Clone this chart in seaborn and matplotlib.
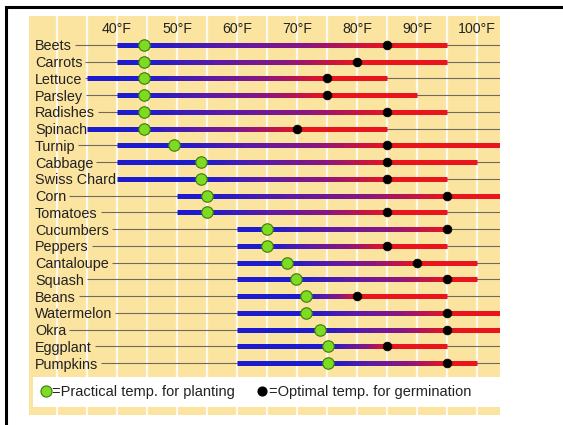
import seaborn as sns
import matplotlib
matplotlib.use("Agg")
import matplotlib.pyplot as plt
from matplotlib import patches
from matplotlib.collections import LineCollection
from matplotlib.lines import Line2D
from matplotlib.colors import LinearSegmentedColormap
import numpy as np
import pandas as pd

# data (degrees F)
crops = ["Beets", "Carrots", "Lettuce", "Parsley", "Radishes", "Spinach", "Turnip",
         "Cabbage", "Swiss Chard", "Corn", "Tomatoes", "Cucumbers", "Peppers",
         "Cantaloupe", "Squash", "Beans", "Watermelon", "Okra", "Eggplant", "Pumpkins"]
temp_min = [40, 40, 35, 40, 40, 35, 40, 40, 40, 50, 50, 60, 60, 60, 60, 60, 60, 60, 60, 60]
temp_max = [95, 95, 85, 90, 95, 85, 105, 100, 95, 105, 95, 95, 95, 100, 100, 95, 105, 105, 95, 100]
practical = [44.5, 44.5, 44.5, 44.5, 44.5, 44.5, 49.5, 54, 54, 55, 55,
             65, 65, 68.4, 69.9, 71.5, 71.5, 73.8, 75.2, 75.2]
optimal = [85, 80, 75, 75, 85, 70, 85, 85, 85, 95, 85, 95, 85, 90, 95, 80, 95, 95, 85, 95]
tick_temps = [40, 50, 60, 70, 80, 90, 100]
grid_temps = list(range(30, 101, 5))

df = pd.DataFrame({"crop": crops, "row": np.arange(len(crops)), "tmin": temp_min,
                   "tmax": temp_max, "practical": practical, "optimal": optimal})

BG = "#fbe3a0"
BLUE = "#1c1cce"
RED = "#e8141e"
GREEN = "#7ddc1f"
fade = LinearSegmentedColormap.from_list("fade", [BLUE, "#5a1aa8", "#8a1680", RED])

sns.set_style("white")
plt.rcParams["font.family"] = ["Liberation Sans", "DejaVu Sans"]

W, H = 563, 425
fig = plt.figure(figsize=(W / 100, H / 100), dpi=100)
ax = fig.add_axes([29 / W, 10 / H, 471 / W, 399 / H])
ax.set_facecolor(BG)
for s in ax.spines.values():
    s.set_visible(False)

# gradient bars: blue up to planting temp, fade to red at optimal temp
segs, cols = [], []
for _, r in df.iterrows():
    y = r["row"]
    segs.append([(r["tmin"], y), (r["practical"] + 0.3, y)])
    cols.append(BLUE)
    xs = np.linspace(r["practical"], r["optimal"], 41)
    for i in range(40):
        segs.append([(xs[i], y), (xs[i + 1] + 0.4, y)])
        cols.append(fade((i + 0.5) / 40))
    segs.append([(r["optimal"], y), (r["tmax"], y)])
    cols.append(RED)
ax.add_collection(LineCollection(segs, colors=cols, linewidths=3.6,
                                 capstyle="butt", zorder=3))

sns.scatterplot(data=df, x="practical", y="row", color=GREEN, edgecolor="#3d7a12",
                linewidth=0.8, s=68, zorder=5, ax=ax, legend=False)
sns.scatterplot(data=df, x="optimal", y="row", color="black", edgecolor="black",
                linewidth=0.5, s=40, zorder=5, ax=ax, legend=False)
ax.set_xlabel("")
ax.set_ylabel("")
ax.set_xlim(25.33, 103.83)
ax.set_ylim(22.1, -1.732)

# white vertical grid every 5 degrees, labels every 10
ax.set_xticks(grid_temps)
ax.set_xticklabels([f"{t}°F" if t in tick_temps else "" for t in grid_temps])
ax.xaxis.tick_top()
ax.tick_params(axis="x", length=0, pad=-14.5, labelsize=10.2, labelcolor="#222222")
ax.grid(axis="x", color="white", lw=1.6, alpha=0.85)
ax.grid(axis="y", visible=False)
ax.set_axisbelow(True)

# crop names inside the plot on the left
ax.set_yticks(df["row"])
ax.set_yticklabels(df["crop"])
ax.tick_params(axis="y", length=0, pad=-4.3, labelsize=10.4, labelcolor="#222222")
for lbl in ax.get_yticklabels():
    lbl.set_horizontalalignment("left")

# thin leader lines from the end of each name to the right edge
fig.canvas.draw()
renderer = fig.canvas.get_renderer()
inv = ax.transData.inverted()
for lbl, y in zip(ax.get_yticklabels(), df["row"]):
    bb = lbl.get_window_extent(renderer)
    x0 = inv.transform((bb.x1 + 3, 0))[0]
    ax.hlines(y, x0, 103.83, color="#6f6a5c", lw=0.8, zorder=2)

# legend strip
ax.add_patch(patches.Rectangle((4 / 471, 8 / 399), 467 / 471, 30 / 399,
                               transform=ax.transAxes, facecolor="white",
                               edgecolor="none", zorder=4))
handles = [Line2D([], [], ls="", marker="o", markersize=8, markerfacecolor=GREEN,
                  markeredgecolor="#3d7a12", markeredgewidth=0.8),
           Line2D([], [], ls="", marker="o", markersize=6.3, markerfacecolor="black",
                  markeredgecolor="black")]
leg = fig.legend(handles, ["=Practical temp. for planting", "=Optimal temp. for germination"],
                 loc="center left", bbox_to_anchor=(41.5 / W, 33 / H), ncol=2,
                 frameon=False, fontsize=10.5, handlelength=0.6, handletextpad=0.15,
                 columnspacing=1.55, borderpad=0, borderaxespad=0)
for t in leg.get_texts():
    t.set_color("#222222")

# black frame around the picture
fig.add_artist(patches.Rectangle((6.3 / W, -0.1), 2, (H - 6.7) / H + 0.1,
                                 transform=fig.transFigure, fill=False,
                                 edgecolor="black", lw=2.2))

fig.savefig("out.png", dpi=100)
